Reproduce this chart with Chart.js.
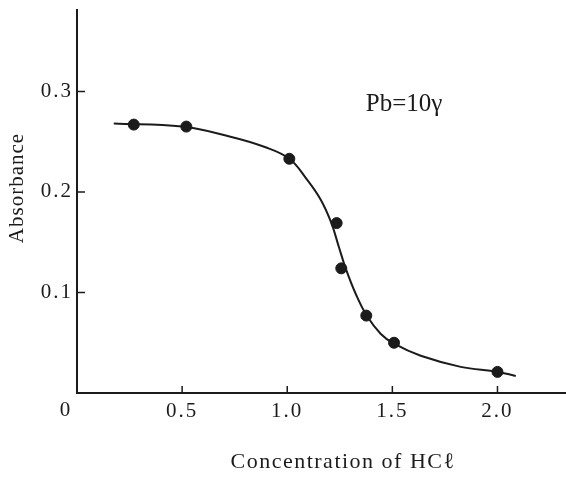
<!DOCTYPE html>
<html><head><meta charset="utf-8">
<style>html,body{margin:0;padding:0;background:#fff;}</style>
<script src="https://cdn.jsdelivr.net/npm/chart.js"></script>
</head><body>
<canvas id="c" width="566" height="477"></canvas>
<script>
// Measured points (HCl concentration vs absorbance)
const pointX = [0.27, 0.52, 1.01, 1.235, 1.257, 1.376, 1.508, 2.0];
const pointY = [0.267, 0.265, 0.233, 0.169, 0.124, 0.077, 0.050, 0.021];
// Hand-drawn smooth curve
const curveX = [0.175, 0.5, 0.73, 0.89, 1.01, 1.095, 1.16, 1.21, 1.246, 1.278, 1.325, 1.378, 1.444, 1.508, 1.635, 1.825, 2.0, 2.087];
const curveY = [0.268, 0.265, 0.255, 0.245, 0.233, 0.212, 0.192, 0.169, 0.145, 0.124, 0.099, 0.077, 0.059, 0.049, 0.037, 0.026, 0.021, 0.017];
const xTicks = [0.5, 1.0, 1.5, 2.0];
const yTicks = [0.1, 0.2, 0.3];
const originLabel = '0';
const xTitle = 'Concentration of HC\u2113';
const yTitle = 'Absorbance';
const note = 'Pb=10\u03b3';

const INK = '#1b1b1b';
const SERIF = '"Liberation Serif", "DejaVu Serif", serif';

const decor = {
  id: 'decor',
  beforeDraw(chart) { chart.ctx.letterSpacing = '2px'; },
  afterDraw(chart) {
    const ctx = chart.ctx, xs = chart.scales.x, ys = chart.scales.y;
    const x0 = xs.getPixelForValue(0), y0 = ys.getPixelForValue(0);
    ctx.save();
    ctx.strokeStyle = INK; ctx.lineWidth = 2;
    // extend the x axis line to the right edge, as in the figure
    ctx.beginPath(); ctx.moveTo(chart.chartArea.right - 1, y0); ctx.lineTo(chart.width, y0); ctx.stroke();
    ctx.lineWidth = 1.5;
    ctx.beginPath();
    xTicks.forEach(v => { const p = xs.getPixelForValue(v); ctx.moveTo(p, y0); ctx.lineTo(p, y0 - 7); });
    yTicks.forEach(v => { const p = ys.getPixelForValue(v); ctx.moveTo(x0, p); ctx.lineTo(x0 + 8, p); });
    ctx.stroke();
    ctx.fillStyle = INK;
    ctx.textAlign = 'center'; ctx.textBaseline = 'middle';
    ctx.letterSpacing = '0px';
    ctx.font = '21px ' + SERIF;
    ctx.fillText(originLabel, x0 - 12, y0 + 17);
    ctx.font = '25px ' + SERIF;
    ctx.fillText(note, 404, 104);
    ctx.letterSpacing = '1.5px';
    ctx.font = '22px ' + SERIF;
    ctx.fillText(xTitle, 343, 462);
    ctx.letterSpacing = '1px';
    ctx.font = '21px ' + SERIF;
    ctx.translate(17, 188); ctx.rotate(-Math.PI / 2);
    ctx.fillText(yTitle, 0, 0);
    ctx.restore();
  }
};

new Chart(document.getElementById('c'), {
  type: 'scatter',
  data: {
    datasets: [
      { data: curveX.map((x, i) => ({x, y: curveY[i]})), showLine: true, borderColor: INK, borderWidth: 2,
        pointRadius: 0, tension: 0.4, fill: false, order: 2 },
      { data: pointX.map((x, i) => ({x, y: pointY[i]})), showLine: false, pointRadius: 5.5,
        pointBackgroundColor: INK, pointBorderColor: INK, order: 1 }
    ]
  },
  options: {
    responsive: false, animation: false,
    layout: { padding: { top: 10, left: 0, right: 0, bottom: 0 } },
    plugins: { legend: { display: false }, tooltip: { enabled: false } },
    scales: {
      x: {
        type: 'linear', min: 0, max: 2.295,
        afterBuildTicks: s => { s.ticks = xTicks.map(v => ({ value: v })); },
        afterFit: s => { s.height = 84; s.paddingLeft = 0; s.paddingRight = 0; },
        grid: { display: true, drawOnChartArea: false, drawTicks: false },
        border: { display: true, color: INK, width: 2 },
        ticks: { color: INK, padding: 6, maxRotation: 0, autoSkip: false,
                 font: { family: SERIF, size: 21 }, callback: v => v.toFixed(1) }
      },
      y: {
        type: 'linear', min: 0, max: 0.381,
        afterBuildTicks: s => { s.ticks = yTicks.map(v => ({ value: v })); },
        afterFit: s => { s.width = 77; s.paddingTop = 0; s.paddingBottom = 0; },
        grid: { display: true, drawOnChartArea: false, drawTicks: false },
        border: { display: true, color: INK, width: 2 },
        ticks: { color: INK, padding: 4, autoSkip: false,
                 font: { family: SERIF, size: 21 }, callback: v => v.toFixed(1) }
      }
    }
  },
  plugins: [decor]
});
</script>
</body></html>
